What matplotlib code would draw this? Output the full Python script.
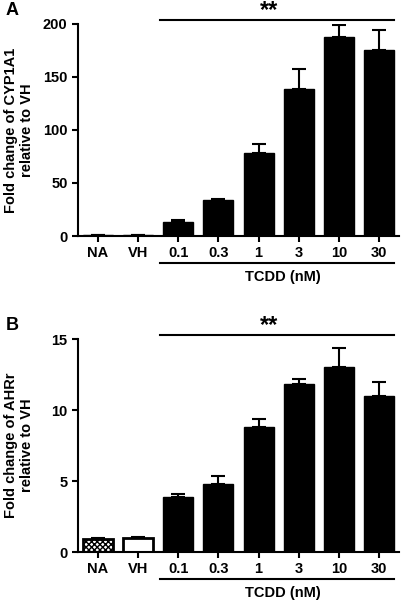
import matplotlib
matplotlib.use("Agg")
import matplotlib.pyplot as plt

plt.rcParams['font.family'] = ['Liberation Sans', 'DejaVu Sans']
plt.rcParams['font.weight'] = 'bold'
plt.rcParams['hatch.linewidth'] = 1.0

groups = ['NA', 'VH', '0.1', '0.3', '1', '3', '10', '30']

# panel A: CYP1A1
cyp_mean = [1, 1, 13, 34, 78, 139, 188, 175]
cyp_err = [0.3, 0.3, 2, 1, 9, 19, 11, 19]

# panel B: AHRr
ahrr_mean = [0.9, 1.0, 3.9, 4.8, 8.8, 11.85, 13.0, 11.0]
ahrr_err = [0.08, 0.05, 0.2, 0.55, 0.6, 0.35, 1.35, 0.95]

fig = plt.figure(figsize=(4.01, 6.07), dpi=100)
axA = fig.add_axes([0.1945, 0.6112, 0.8005, 0.3493])
axB = fig.add_axes([0.1945, 0.0906, 0.8005, 0.3509])


def panel(ax, mean, err, ymax, yticks, ylabel, letter, letter_y, special):
    x = list(range(len(groups)))
    for i in x:
        face = 'black'
        hatch = None
        if special and i == 0:
            face = 'white'
            hatch = 'xxxxxx'
        elif special and i == 1:
            face = 'white'
        lw = 1.0 if face == 'black' else 2.0
        ax.bar(i, mean[i], width=0.75, color=face, edgecolor='black',
               linewidth=lw, hatch=hatch, zorder=2)
        ax.errorbar(i, mean[i], yerr=[[0], [err[i]]], fmt='none',
                    ecolor='black', elinewidth=1.5, capsize=5, capthick=1.5,
                    zorder=1)
    ax.set_xlim(-0.5, 7.5)
    ax.set_ylim(0, ymax)
    ax.set_yticks(yticks)
    ax.set_xticks(x)
    ax.set_xticklabels(groups)
    ax.tick_params(labelsize=10.5, width=1.5, length=4, direction='out')
    for lab in ax.get_xticklabels() + ax.get_yticklabels():
        lab.set_fontweight('bold')
    for s in ['top', 'right']:
        ax.spines[s].set_visible(False)
    for s in ['left', 'bottom']:
        ax.spines[s].set_linewidth(1.5)
    ax.set_ylabel(ylabel, fontsize=10.5, fontweight='bold', va='center')
    ax.yaxis.set_label_coords(-0.185, 0.5)
    # significance bar
    ax.plot([1.55, 7.38], [ymax * 1.02] * 2, color='black', lw=1.5,
            clip_on=False, transform=ax.transData)
    ax.text(4.25, ymax * 1.01, '**', ha='center', va='bottom',
            fontsize=17, fontweight='bold')
    # TCDD group line under the tick labels
    ax.plot([1.55, 7.38], [-0.125, -0.125], color='black', lw=1.5,
            clip_on=False, transform=ax.get_xaxis_transform())
    ax.text(4.6, -0.16, 'TCDD (nM)', ha='center', va='top', fontsize=10.5,
            fontweight='bold', transform=ax.get_xaxis_transform())
    fig.text(0.015, letter_y, letter, fontsize=13, fontweight='bold',
             ha='left', va='center')


panel(axA, cyp_mean, cyp_err, 200, [0, 50, 100, 150, 200],
      'Fold change of CYP1A1\nrelative to VH', 'A', 0.982, False)
panel(axB, ahrr_mean, ahrr_err, 15, [0, 5, 10, 15],
      'Fold change of AHRr\nrelative to VH', 'B', 0.463, True)

fig.savefig('out.png', dpi=100)
